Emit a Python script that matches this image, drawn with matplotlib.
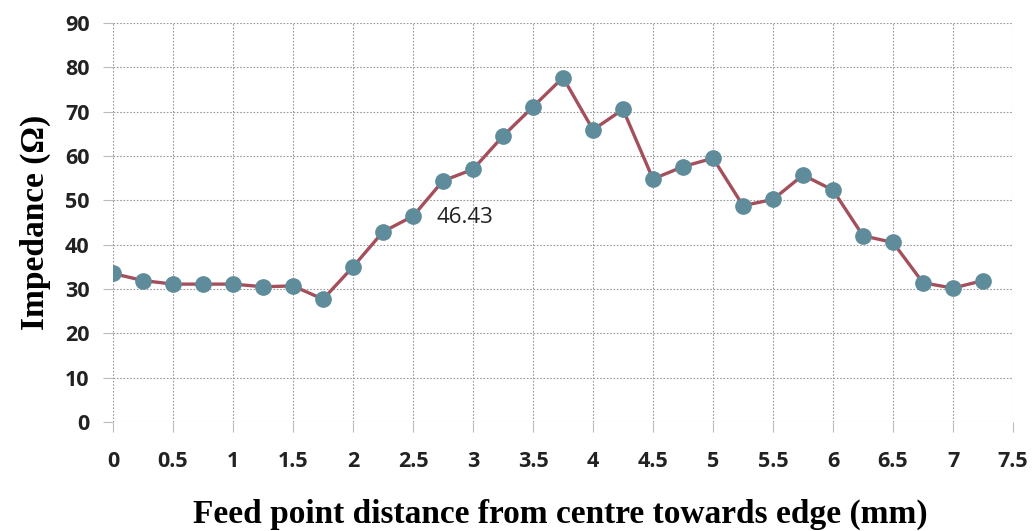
import numpy as np
import matplotlib
matplotlib.use("Agg")
import matplotlib.pyplot as plt

# feed point offset (mm) and measured input impedance (ohm)
distance_mm = [0, 0.25, 0.5, 0.75, 1, 1.25, 1.5, 1.75, 2, 2.25,
               2.5, 2.75, 3, 3.25, 3.5, 3.75, 4, 4.25, 4.5, 4.75,
               5, 5.25, 5.5, 5.75, 6, 6.25, 6.5, 6.75, 7, 7.25]
impedance = [33.5, 31.9, 31.1, 31.1, 31.1, 30.5, 30.7, 27.7, 35.0, 42.9,
             46.43, 54.4, 57.0, 64.5, 71.1, 77.7, 65.9, 70.5, 54.8, 57.6,
             59.5, 48.8, 50.2, 55.7, 52.3, 42.0, 40.5, 31.4, 30.2, 31.9]
x_ticks = [0, 0.5, 1, 1.5, 2, 2.5, 3, 3.5, 4, 4.5, 5, 5.5, 6, 6.5, 7, 7.5]
y_ticks = [0, 10, 20, 30, 40, 50, 60, 70, 80, 90]
labelled_x = 2.5

LINE = "#A4505C"
MARKER = "#5E8C9A"
GRID = "#9A9A9A"

fig = plt.figure(figsize=(10.34, 5.31), dpi=100)
ax = fig.add_axes([0.1093, 0.2053, 0.8704, 0.7514])

ax.plot(distance_mm, impedance, color=LINE, linewidth=2.4, zorder=3)
ax.plot(distance_mm, impedance, linestyle="none", marker="o",
        markersize=11, color=MARKER, zorder=4)

i = distance_mm.index(labelled_x)
ax.annotate(f"{impedance[i]:.2f}", (distance_mm[i], impedance[i]),
            xytext=(17, -1), textcoords="offset points",
            va="center", ha="left", fontsize=16, family="Open Sans",
            color="#222222")

ax.set_xlim(0, 7.5)
ax.set_ylim(0, 90)
ax.set_xticks(x_ticks)
ax.set_xticklabels([f"{t:g}" for t in x_ticks])
ax.set_yticks(y_ticks)

for s in ax.spines.values():
    s.set_visible(False)
ax.grid(True, color=GRID, linestyle=(0, (1.5, 1.5)), linewidth=0.8)
ax.set_axisbelow(True)
ax.tick_params(axis="both", length=7, width=0.8, color="#BBBBBB",
               labelsize=15.5, pad=14)
ax.tick_params(axis="y", pad=10)
for lbl in ax.get_xticklabels() + ax.get_yticklabels():
    lbl.set_fontweight("bold")
    lbl.set_family("Open Sans")
    lbl.set_color("#222222")

ax.set_ylabel("Impedance (\u03a9)", fontsize=24, fontweight="bold",
              family="Liberation Serif", labelpad=10)
# x label sits below the tick row, placed in figure coordinates
fig.text(0.542, 0.032, "Feed point distance from centre towards edge (mm)",
         ha="center", va="center", fontsize=24, fontweight="bold",
         family="Liberation Serif")

fig.savefig("out.png", dpi=100)
